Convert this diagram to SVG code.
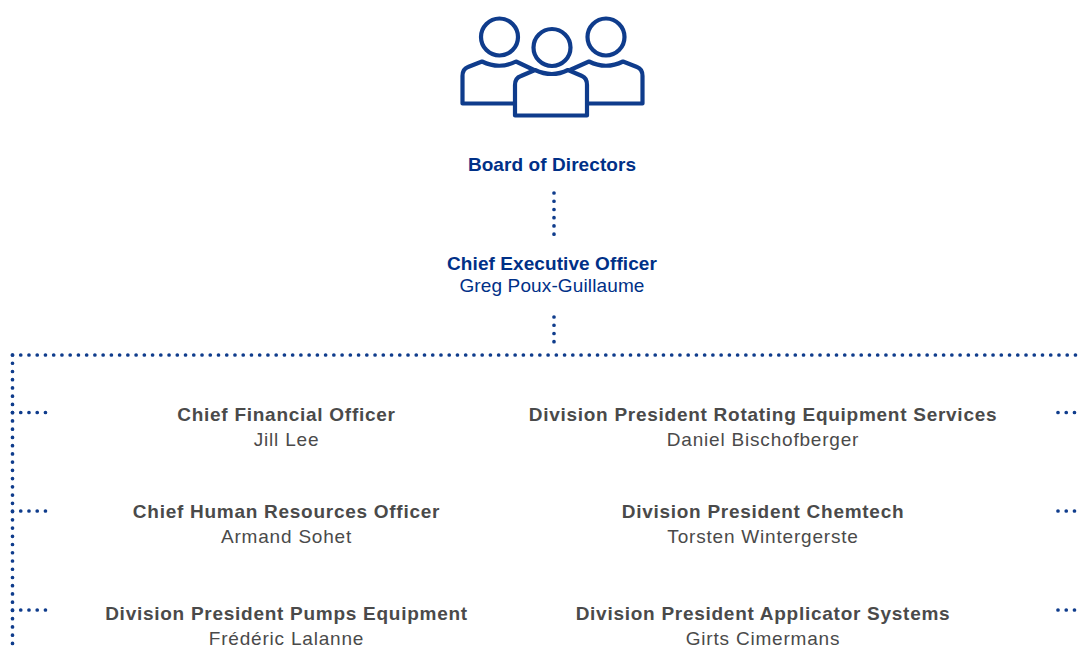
<svg xmlns="http://www.w3.org/2000/svg" width="1081" height="671" viewBox="0 0 1081 671">
<style>
text{font-family:"Liberation Sans",Arial,sans-serif;text-anchor:middle;font-size:19px}
.b{fill:#003087;font-weight:700;letter-spacing:.08px}
.n{fill:#003087;letter-spacing:.13px}
.gh{fill:#4a4a4a;font-weight:700;letter-spacing:.73px}
.g{fill:#4a4a4a;letter-spacing:.8px}
.d{fill:none;stroke:#0f3c8c;stroke-width:3.7;stroke-linecap:round;stroke-dasharray:0 8.24}
.i{fill:none;stroke:#0f3c8c;stroke-width:4.2;stroke-linejoin:round}
</style>
<rect width="1081" height="671" fill="#fff"/>
<g id="connectors">
<path class="d" d="M554 193V236"/>
<path class="d" d="M554 317V342"/>
<path class="d" d="M12.5 355H1076"/>
<path class="d" d="M12.500 355V644"/>
<path class="d" d="M12.500 412.500H46"/>
<path class="d" d="M12.500 511H46"/>
<path class="d" d="M12.500 610H46"/>
<path class="d" d="M1058 412.500H1075"/>
<path class="d" d="M1058 511H1075"/>
<path class="d" d="M1058 610H1075"/>
</g>
<g id="board">
<g class="i">
<circle cx="499.500" cy="37" r="18.500"/>
<circle cx="606" cy="37" r="18.500"/>
<circle cx="552" cy="47.500" r="18.500"/>
<path d="M514 103.500H462.500V76Q462.500 69 468 67L482 61.500Q499.500 70 516 61.500L534 70"/>
<path d="M588 103.500H642.500V76Q642.500 69 637 67L623 61.500Q606 70 589 61.500L570 70"/>
<path d="M515 115.500H587V85Q587 78 582 76L568 70Q552 78 535 70L521 76Q515 78 515 85Z"/>
</g>
<text class="b" x="552" y="171">Board of Directors</text>
</g>
<g id="ceo">
<text class="b" x="552" y="270">Chief Executive Officer</text>
<text class="n" x="552" y="292">Greg Poux-Guillaume</text>
</g>
<g id="cfo">
<text class="gh" x="286.500" y="421">Chief Financial Officer</text>
<text class="g" x="286.500" y="446">Jill Lee</text>
</g>
<g id="chro">
<text class="gh" x="286.500" y="518">Chief Human Resources Officer</text>
<text class="g" x="286.500" y="543">Armand Sohet</text>
</g>
<g id="pumps">
<text class="gh" x="286.500" y="620">Division President Pumps Equipment</text>
<text class="g" x="286.500" y="645">Frédéric Lalanne</text>
</g>
<g id="res">
<text class="gh" x="763" y="421">Division President Rotating Equipment Services</text>
<text class="g" x="763" y="446">Daniel Bischofberger</text>
</g>
<g id="chemtech">
<text class="gh" x="763" y="518">Division President Chemtech</text>
<text class="g" x="763" y="543">Torsten Wintergerste</text>
</g>
<g id="applicator">
<text class="gh" x="763" y="620">Division President Applicator Systems</text>
<text class="g" x="763" y="645">Girts Cimermans</text>
</g>
</svg>
